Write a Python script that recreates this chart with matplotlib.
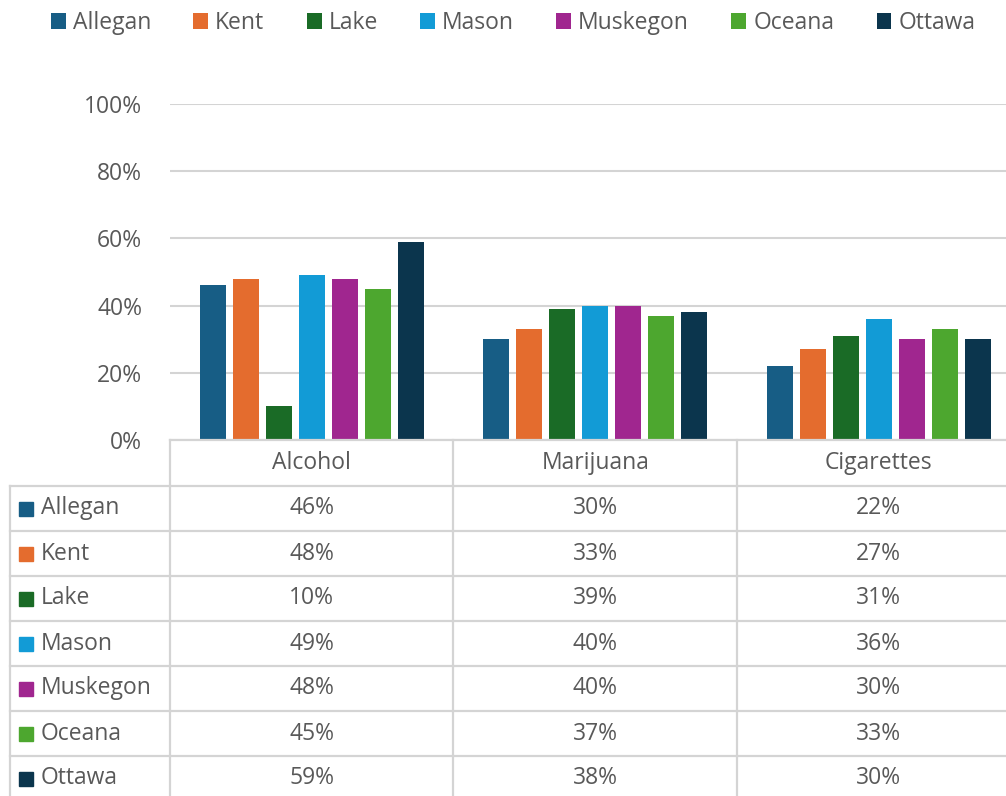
import matplotlib.pyplot as plt
from matplotlib.patches import Rectangle

plt.rcParams['font.family'] = ['Open Sans', 'DejaVu Sans']

substances = ["Alcohol", "Marijuana", "Cigarettes"]
counties = ["Allegan", "Kent", "Lake", "Mason", "Muskegon", "Oceana", "Ottawa"]
colors = ["#175d85", "#e46c2e", "#1a6b26", "#129bd6", "#a0268f", "#4da72f", "#0b354d"]

allegan = [0.46, 0.30, 0.22]
kent = [0.48, 0.33, 0.27]
lake = [0.10, 0.39, 0.31]
mason = [0.49, 0.40, 0.36]
muskegon = [0.48, 0.40, 0.30]
oceana = [0.45, 0.37, 0.33]
ottawa = [0.59, 0.38, 0.30]
series = [allegan, kent, lake, mason, muskegon, oceana, ottawa]

W, H = 1006, 796
text_col = "#595959"
line_col = "#d4d4d4"
fs = 16.5

fig = plt.figure(figsize=(W / 100, H / 100), dpi=100)

# chart area in pixels: x 170..1020 (3 columns of 283.5), y 104..440
x0, x1 = 170, 1020.5
y_top, y_zero = 104, 440
ax = fig.add_axes([x0 / W, (H - y_zero) / H, (x1 - x0) / W, (y_zero - y_top) / H])
ax.set_xlim(0, 3)
ax.set_ylim(0, 1)

step = 33 / 283.5
width = 26 / 283.5
for i, (name, vals, c) in enumerate(zip(counties, series, colors)):
    xs = [g + 0.5 + (i - 3) * step for g in range(len(substances))]
    ax.bar(xs, vals, width=width, color=c, label=name, zorder=3)

ax.set_yticks([0, 0.2, 0.4, 0.6, 0.8, 1.0])
ax.set_yticklabels([f"{int(v * 100)}%" for v in ax.get_yticks()], color=text_col, fontsize=fs)
ax.tick_params(axis='y', length=0, pad=20)
ax.set_xticks([])
ax.yaxis.grid(True, color=line_col, linewidth=1.5, zorder=0)
for s in ax.spines.values():
    s.set_visible(False)

# data table drawn in pixel coordinates
tb = fig.add_axes([0, 0, 1, 1], facecolor='none')
tb.set_xlim(0, W)
tb.set_ylim(H, 0)
tb.axis('off')

col_w = 283.5
col_edges = [x0 + k * col_w for k in range(4)]
left_edge = 10
head_bottom = 486
row_h = 45
lw = 1.6

tb.plot([x0, W], [y_zero, y_zero], color=line_col, lw=lw)
for r in range(len(counties) + 1):
    y = head_bottom + r * row_h
    tb.plot([left_edge, W], [y, y], color=line_col, lw=lw)
tb.plot([left_edge, left_edge], [head_bottom, H], color=line_col, lw=lw)
for xe in col_edges:
    tb.plot([xe, xe], [y_zero, H], color=line_col, lw=lw)

for j, name in enumerate(substances):
    cx = col_edges[j] + col_w / 2
    tb.text(cx, (y_zero + head_bottom) / 2, name, ha='center', va='center',
            color=text_col, fontsize=fs)

for i, (name, vals, c) in enumerate(zip(counties, series, colors)):
    cy = head_bottom + i * row_h + row_h / 2
    tb.add_patch(Rectangle((19, cy - 7), 14, 14, color=c))
    tb.text(41, cy, name, ha='left', va='center', color=text_col, fontsize=fs)
    for j, v in enumerate(vals):
        cx = col_edges[j] + col_w / 2
        tb.text(cx, cy, f"{round(v * 100)}%", ha='center', va='center',
                color=text_col, fontsize=fs)

leg = fig.legend(loc='upper center', bbox_to_anchor=(0.51, 1.012), ncol=7, frameon=False,
                 fontsize=fs, handlelength=0.65, handleheight=0.65, handletextpad=0.3,
                 columnspacing=1.85)
for t in leg.get_texts():
    t.set_color(text_col)

fig.savefig("out.png", dpi=100)
